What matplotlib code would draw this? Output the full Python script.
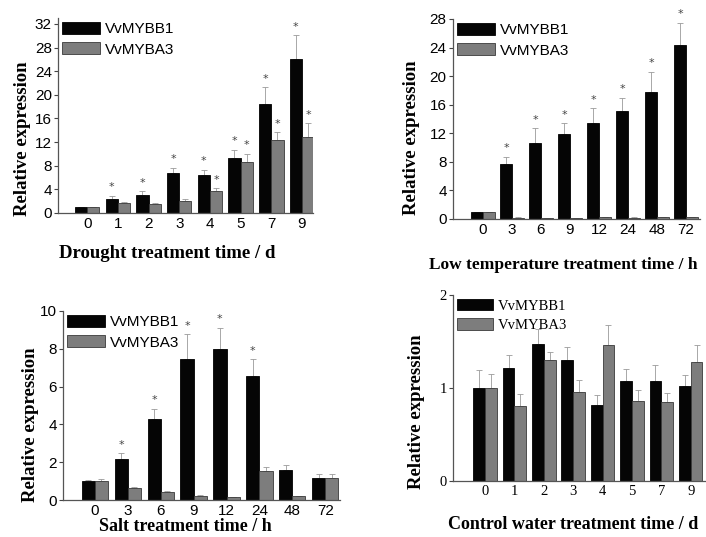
import numpy as np
import matplotlib
matplotlib.use("Agg")
from matplotlib import pyplot as plt

# ---- data ----
drought_t = ['0', '1', '2', '3', '4', '5', '7', '9']
drought_bb1 = [1.0, 2.4, 3.1, 6.8, 6.5, 9.3, 18.4, 26.0]
drought_bb1_err = [0.1, 0.5, 0.6, 0.9, 0.8, 1.4, 2.9, 4.1]
drought_ba3 = [1.0, 1.7, 1.5, 2.1, 3.7, 8.7, 12.3, 12.9]
drought_ba3_err = [0.1, 0.2, 0.2, 0.3, 0.5, 1.3, 1.4, 2.3]
drought_star_bb1 = [False, True, True, True, True, True, True, True]
drought_star_ba3 = [False, False, False, False, True, True, True, True]

cold_t = ['0', '3', '6', '9', '12', '24', '48', '72']
cold_bb1 = [1.0, 7.7, 10.7, 11.9, 13.5, 15.1, 17.8, 24.3]
cold_bb1_err = [0.05, 1.0, 2.0, 1.5, 2.0, 1.9, 2.8, 3.2]
cold_ba3 = [1.0, 0.2, 0.1, 0.1, 0.3, 0.2, 0.25, 0.25]
cold_ba3_err = [0.05, 0.03, 0.02, 0.02, 0.05, 0.03, 0.03, 0.03]
cold_star_bb1 = [False, True, True, True, True, True, True, True]
cold_star_ba3 = [False] * 8

salt_t = ['0', '3', '6', '9', '12', '24', '48', '72']
salt_bb1 = [1.0, 2.15, 4.3, 7.44, 7.97, 6.56, 1.59, 1.18]
salt_bb1_err = [0.05, 0.32, 0.53, 1.33, 1.15, 0.88, 0.26, 0.18]
salt_ba3 = [1.0, 0.62, 0.44, 0.21, 0.16, 1.53, 0.19, 1.18]
salt_ba3_err = [0.1, 0.05, 0.05, 0.03, 0.02, 0.22, 0.03, 0.18]
salt_star_bb1 = [False, True, True, True, True, True, False, False]
salt_star_ba3 = [False] * 8

ctrl_t = ['0', '1', '2', '3', '4', '5', '7', '9']
ctrl_bb1 = [1.0, 1.21, 1.47, 1.30, 0.82, 1.07, 1.08, 1.02]
ctrl_bb1_err = [0.19, 0.14, 0.16, 0.14, 0.10, 0.13, 0.17, 0.12]
ctrl_ba3 = [1.0, 0.81, 1.30, 0.96, 1.46, 0.86, 0.85, 1.275]
ctrl_ba3_err = [0.15, 0.13, 0.09, 0.13, 0.22, 0.12, 0.10, 0.19]

W, H = 706, 537
fig = plt.figure(figsize=(W / 100, H / 100), dpi=100)

SANS = 'Liberation Sans'
SERIF = 'Liberation Serif'


def panel(px, labels, bb1, bb1_err, ba3, ba3_err, star1, star3,
          xlim, ylim, yticks, xlabel, xlab_xy, ylab_xy, tickfont, fs, xlab_fs=13.5):
    # px = (left, top, right, bottom) in pixels
    l, t, r, b = px
    ax = fig.add_axes([l / W, (H - b) / H, (r - l) / W, (b - t) / H])
    x = np.arange(len(labels))
    w = 0.4
    ekw = dict(ecolor='#9a9a9a', elinewidth=0.6, capsize=2, capthick=0.6)
    ax.bar(x - w / 2, bb1, w, color='#050505', edgecolor='#000000', lw=0.6,
           label='VvMYBB1', zorder=2)
    ax.errorbar(x - w / 2, bb1, yerr=[np.zeros(len(x)), bb1_err], fmt='none', zorder=1, **ekw)
    ax.bar(x + w / 2, ba3, w, color='#7d7d7d', edgecolor='#3a3a3a', lw=0.6,
           label='VvMYBA3', zorder=2)
    ax.errorbar(x + w / 2, ba3, yerr=[np.zeros(len(x)), ba3_err], fmt='none', zorder=1, **ekw)
    for i in range(len(x)):
        if star1[i]:
            ax.annotate('*', (x[i] - w / 2, bb1[i] + bb1_err[i]), xytext=(0, 2.5),
                        textcoords='offset points', ha='center', va='bottom',
                        fontsize=8, color='#444444')
        if star3[i]:
            ax.annotate('*', (x[i] + w / 2, ba3[i] + ba3_err[i]), xytext=(0, 2.5),
                        textcoords='offset points', ha='center', va='bottom',
                        fontsize=8, color='#444444')

    ax.set_xlim(*xlim)
    ax.set_ylim(*ylim)
    ax.set_xticks(x)
    ax.set_xticklabels(labels, family=tickfont, fontsize=fs)
    ax.set_yticks(yticks)
    ax.set_yticklabels([str(v) for v in yticks], family=tickfont, fontsize=fs)
    ax.tick_params(axis='x', length=0, pad=3)
    ax.tick_params(axis='y', length=3, width=0.8, direction='out', pad=1.5, color='#444444')
    for s in ['top', 'right']:
        ax.spines[s].set_visible(False)
    for s in ['left', 'bottom']:
        ax.spines[s].set_color('#555555')
        ax.spines[s].set_linewidth(0.9)

    ax.set_xlabel(xlabel, family=SERIF, fontweight='bold', fontsize=xlab_fs)
    ax.xaxis.set_label_coords(*xlab_xy)
    ax.set_ylabel('Relative expression', family=SERIF, fontweight='bold', fontsize=13.5)
    ax.yaxis.set_label_coords(*ylab_xy)

    ax.legend(loc='upper left', bbox_to_anchor=(0.0, 1.0), frameon=False,
              prop={'family': tickfont, 'size': fs}, handlelength=2.5,
              handleheight=0.85, handletextpad=0.35, labelspacing=0.4,
              borderaxespad=0.1, borderpad=0.15)
    return ax


panel((58, 18, 313, 213), drought_t, drought_bb1, drought_bb1_err,
      drought_ba3, drought_ba3_err, drought_star_bb1, drought_star_ba3,
      (-0.95, 7.36), (0, 33), list(range(0, 33, 4)),
      'Drought treatment time / d', (0.43, -0.165), (-0.105, 0.38), SANS, 11)

panel((453, 19, 700, 219), cold_t, cold_bb1, cold_bb1_err,
      cold_ba3, cold_ba3_err, cold_star_bb1, cold_star_ba3,
      (-1.03, 7.48), (0, 28), list(range(0, 29, 4)),
      'Low temperature treatment time / h', (0.445, -0.19), (-0.135, 0.405), SANS, 11,
      xlab_fs=12.5)

panel((63, 311, 340, 500), salt_t, salt_bb1, salt_bb1_err,
      salt_ba3, salt_ba3_err, salt_star_bb1, salt_star_ba3,
      (-0.97, 7.45), (0, 10), list(range(0, 11, 2)),
      'Salt treatment time / h', (0.44, -0.095), (-0.085, 0.40), SANS, 11, xlab_fs=13)

panel((453, 295, 706, 481), ctrl_t, ctrl_bb1, ctrl_bb1_err,
      ctrl_ba3, ctrl_ba3_err, [False] * 8, [False] * 8,
      (-1.09, 7.52), (0, 2), [0, 1, 2],
      'Control water treatment time / d', (0.475, -0.19), (-0.11, 0.37), SERIF, 10.5,
      xlab_fs=13)

fig.savefig('out.png', dpi=100)
